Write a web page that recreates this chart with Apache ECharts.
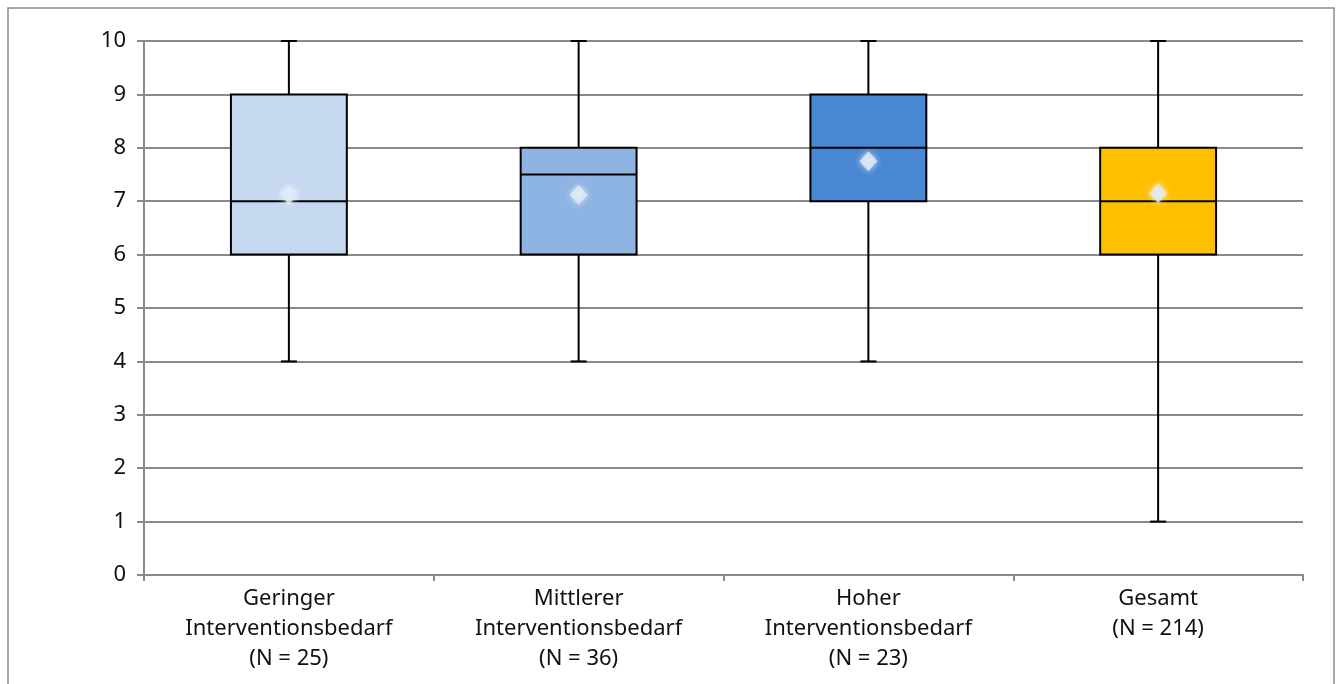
<!DOCTYPE html>
<html>
<head>
<meta charset="utf-8">
<script src="https://cdn.jsdelivr.net/npm/echarts@6/dist/echarts.min.js"></script>
<style>
html,body{margin:0;padding:0;background:#fff;}
#c{width:1341px;height:684px;}
</style>
</head>
<body>
<div id="c"></div>
<script>
const categories = [
  'Geringer\nInterventionsbedarf\n(N = 25)',
  'Mittlerer\nInterventionsbedarf\n(N = 36)',
  'Hoher\nInterventionsbedarf\n(N = 23)',
  'Gesamt\n(N = 214)'
];
const minValues    = [4, 4, 4, 1];
const q1Values     = [6, 6, 7, 6];
const medianValues = [7, 7.5, 8, 7];
const q3Values     = [9, 8, 9, 8];
const maxValues    = [10, 10, 10, 10];
const meanValues   = [7.12, 7.12, 7.75, 7.15];
const boxColors    = ['#c6d8f0', '#8db4e2', '#4a87d3', '#ffc000'];
const yTicks = [0,1,2,3,4,5,6,7,8,9,10];

const boxData = categories.map((c, i) => [i, minValues[i], q1Values[i], medianValues[i], q3Values[i], maxValues[i]]);
const meanData = categories.map((c, i) => [i, meanValues[i]]);

const chart = echarts.init(document.getElementById('c'), null, {renderer: 'canvas'});
const font = '"Noto Sans", "Open Sans", sans-serif';

function renderBox(params, api) {
  const i = api.value(0);
  const band = api.size([1, 0])[0];
  const w = band * 0.4;
  const capW = 16;
  const pMin = api.coord([i, api.value(1)]);
  const pQ1 = api.coord([i, api.value(2)]);
  const pMed = api.coord([i, api.value(3)]);
  const pQ3 = api.coord([i, api.value(4)]);
  const pMax = api.coord([i, api.value(5)]);
  const x = pMin[0];
  const ls = {stroke: '#000', lineWidth: 2};
  return {
    type: 'group',
    children: [
      {type: 'line', shape: {x1: x, y1: pMax[1], x2: x, y2: pQ3[1]}, style: ls},
      {type: 'line', shape: {x1: x, y1: pQ1[1], x2: x, y2: pMin[1]}, style: ls},
      {type: 'line', shape: {x1: x - capW/2, y1: pMax[1], x2: x + capW/2, y2: pMax[1]}, style: ls},
      {type: 'line', shape: {x1: x - capW/2, y1: pMin[1], x2: x + capW/2, y2: pMin[1]}, style: ls},
      {type: 'rect', shape: {x: x - w/2, y: pQ3[1], width: w, height: pQ1[1] - pQ3[1]},
        style: {fill: boxColors[i], stroke: '#000', lineWidth: 2}},
      {type: 'line', shape: {x1: x - w/2, y1: pMed[1], x2: x + w/2, y2: pMed[1]}, style: ls}
    ]
  };
}

chart.setOption({
  animation: false,
  backgroundColor: '#fff',
  textStyle: {fontFamily: font},
  graphic: [{
    type: 'polyline',
    shape: {points: [[8, 684], [8, 8], [1334, 8], [1334, 684]]},
    style: {stroke: '#8a8a8a', lineWidth: 1.5, fill: null},
    silent: true
  }],
  grid: {left: 144, right: 38, top: 41, bottom: 109, containLabel: false},
  xAxis: {
    type: 'category',
    data: categories,
    boundaryGap: true,
    axisLine: {show: true, lineStyle: {color: '#8a8a8a', width: 2}},
    axisTick: {show: true, interval: 0, length: 6, lineStyle: {color: '#8a8a8a', width: 2}},
    axisLabel: {interval: 0, margin: 9, fontSize: 22, lineHeight: 30, color: '#111', fontFamily: font},
    splitLine: {show: false}
  },
  yAxis: {
    type: 'value',
    min: 0, max: 10, interval: 1,
    axisLine: {show: true, lineStyle: {color: '#8a8a8a', width: 2}},
    axisTick: {show: true, length: 7, lineStyle: {color: '#8a8a8a', width: 2}},
    axisLabel: {margin: 18, fontSize: 22, color: '#111', fontFamily: font,
      formatter: v => yTicks.includes(v) ? String(v) : ''},
    splitLine: {show: true, lineStyle: {color: '#8a8a8a', width: 2}}
  },
  series: [
    {
      type: 'custom',
      renderItem: renderBox,
      data: boxData,
      encode: {x: 0, y: [1, 2, 3, 4, 5]},
      z: 3
    },
    {
      type: 'scatter',
      data: meanData,
      symbol: 'diamond',
      symbolSize: [18, 20],
      itemStyle: {color: '#dfeaf7', shadowBlur: 6, shadowColor: 'rgba(255,255,255,0.9)'},
      z: 5
    }
  ]
});
</script>
</body>
</html>
